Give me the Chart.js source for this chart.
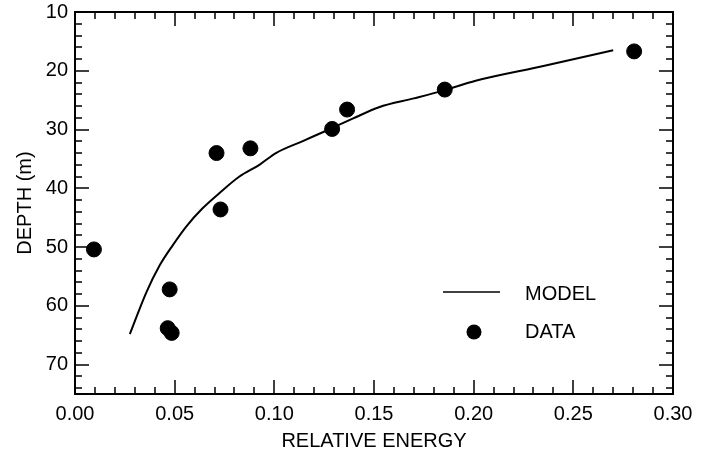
<!DOCTYPE html>
<html>
<head>
<meta charset="utf-8">
<script src="https://cdn.jsdelivr.net/npm/chart.js@4.4.1/dist/chart.umd.min.js"></script>
<style>
  html, body { margin: 0; padding: 0; background: #fff; }
  #wrap { width: 706px; height: 457px; }
</style>
</head>
<body>
<div id="wrap"><canvas id="chart" width="706" height="457"></canvas></div>
<script>
// model curve
const modelEnergy = [0.0275, 0.0358, 0.0425, 0.049, 0.0558, 0.064, 0.0725, 0.0825, 0.0925, 0.1008, 0.114, 0.126, 0.139, 0.1525, 0.170, 0.1855, 0.201, 0.235, 0.270];
const modelDepth  = [64.8, 57.7, 53.1, 49.7, 46.5, 43.4, 40.8, 38.0, 36.0, 34.0, 32.0, 30.2, 28.2, 26.2, 24.7, 23.3, 21.7, 19.2, 16.5];

// measured points
const dataEnergy = [0.0095, 0.071, 0.088, 0.073, 0.0475, 0.0465, 0.0485, 0.129, 0.1365, 0.1855, 0.2805];
const dataDepth  = [50.4, 34.0, 33.2, 43.6, 57.2, 63.8, 64.6, 29.9, 26.6, 23.2, 16.7];

const xTicks = [0, 0.05, 0.10, 0.15, 0.20, 0.25, 0.30];
const yTicks = [10, 20, 30, 40, 50, 60, 70];

const legendItems = ['MODEL', 'DATA'];

const FONT = 'Liberation Sans, Arial, Helvetica, sans-serif';

// minor ticks every 0.01 on x, every 2 on y
const xMinor = [];
for (let i = 0; i <= 30; i++) xMinor.push(i / 100);
const yMinor = [];
for (let v = 10; v <= 75; v += 2) yMinor.push(v);

const frame = {
    id: 'frame',
    afterDraw(chart) {
        const ctx = chart.ctx;
        const a = chart.chartArea;
        const xs = chart.scales.x, ys = chart.scales.y;
        ctx.save();
        ctx.strokeStyle = '#000';
        ctx.lineWidth = 2;
        ctx.strokeRect(a.left, a.top, a.right - a.left, a.bottom - a.top);
        ctx.lineWidth = 1.5;
        ctx.beginPath();
        xMinor.forEach(v => {
            const px = Math.round(xs.getPixelForValue(v));
            const major = xTicks.some(t => Math.abs(t - v) < 1e-6);
            const len = major ? 14 : 7;
            ctx.moveTo(px, a.bottom); ctx.lineTo(px, a.bottom - len);
            ctx.moveTo(px, a.top); ctx.lineTo(px, a.top + len);
        });
        yMinor.forEach(v => {
            const py = Math.round(ys.getPixelForValue(v));
            const major = v % 10 === 0;
            const len = major ? 14 : 7;
            ctx.moveTo(a.left, py); ctx.lineTo(a.left + len, py);
            ctx.moveTo(a.right, py); ctx.lineTo(a.right - len, py);
        });
        ctx.stroke();

        // legend inside the plot
        const lx = 443, ly = 292;
        ctx.lineWidth = 1.5;
        ctx.beginPath();
        ctx.moveTo(lx, ly); ctx.lineTo(lx + 57, ly);
        ctx.stroke();
        ctx.fillStyle = '#000';
        ctx.beginPath();
        ctx.arc(474, 332, 7.5, 0, Math.PI * 2);
        ctx.fill();
        ctx.font = '20px ' + FONT;
        ctx.textBaseline = 'middle';
        ctx.textAlign = 'left';
        ctx.fillText(legendItems[0], 525, ly + 2);
        ctx.fillText(legendItems[1], 525, 332);
        ctx.restore();
    }
};

new Chart(document.getElementById('chart'), {
    type: 'scatter',
    data: {
        datasets: [
            {
                label: legendItems[0],
                type: 'line',
                data: modelEnergy.map((x, i) => ({ x: x, y: modelDepth[i] })),
                borderColor: '#000',
                borderWidth: 2,
                pointRadius: 0,
                cubicInterpolationMode: 'monotone',
                fill: false
            },
            {
                label: legendItems[1],
                data: dataEnergy.map((x, i) => ({ x: x, y: dataDepth[i] })),
                backgroundColor: '#000',
                borderColor: '#000',
                pointRadius: 7.5,
                pointHoverRadius: 7.5
            }
        ]
    },
    options: {
        responsive: false,
        animation: false,
        layout: { padding: { top: 12, right: 33, left: 0, bottom: 0 } },
        plugins: {
            legend: { display: false },
            tooltip: { enabled: false }
        },
        scales: {
            x: {
                type: 'linear',
                min: 0,
                max: 0.30,
                grid: { display: false, drawTicks: false },
                border: { display: false },
                afterBuildTicks: (s) => { s.ticks = xTicks.map(v => ({ value: v })); },
                afterFit: (s) => { s.height = 63; s.paddingLeft = 0; s.paddingRight = 0; },
                ticks: {
                    padding: 8,
                    color: '#000',
                    font: { family: FONT, size: 20 },
                    callback: (v) => v.toFixed(2)
                },
                title: {
                    display: true,
                    text: 'RELATIVE ENERGY',
                    color: '#000',
                    font: { family: FONT, size: 20 },
                    padding: { top: 8 }
                }
            },
            y: {
                type: 'linear',
                reverse: true,
                min: 10,
                max: 75,
                grid: { display: false, drawTicks: false },
                border: { display: false },
                afterBuildTicks: (s) => { s.ticks = yTicks.map(v => ({ value: v })); },
                afterFit: (s) => { s.width = 75; s.paddingTop = 0; s.paddingBottom = 0; },
                ticks: {
                    padding: 7,
                    color: '#000',
                    font: { family: FONT, size: 20 }
                },
                title: {
                    display: true,
                    text: 'DEPTH (m)',
                    color: '#000',
                    font: { family: FONT, size: 20 },
                    padding: { top: 13, bottom: 0 }
                }
            }
        }
    },
    plugins: [frame]
});
</script>
</body>
</html>
